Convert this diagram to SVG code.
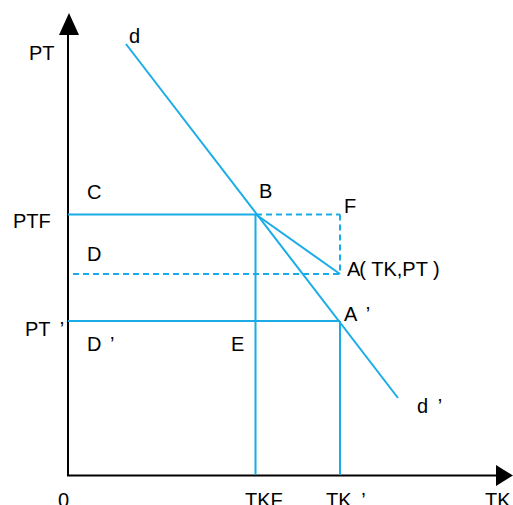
<svg xmlns="http://www.w3.org/2000/svg" width="513" height="505" viewBox="0 0 513 505">
<style>
text{font-family:"Liberation Sans",Arial,sans-serif;font-size:20px;fill:#000}
.b{stroke:#1AACE6;stroke-width:2;fill:none}
.d{stroke:#1AACE6;stroke-width:2;fill:none;stroke-dasharray:6,4}
.ax{stroke:#000;stroke-width:2;fill:none}
</style>
<rect width="513" height="505" fill="#fff"/>
<g id="axes">
<line class="ax" x1="68" y1="476" x2="68" y2="30"/>
<polygon points="59,35 69,13 79,35" fill="#000"/>
<line class="ax" x1="67" y1="475.5" x2="500" y2="475.5"/>
<polygon points="496,465 513,475.5 496,486" fill="#000"/>
</g>
<g id="connectors">
<line class="b" x1="126" y1="44" x2="398" y2="398"/>
<line class="b" x1="68" y1="214.5" x2="256" y2="214.5"/>
<line class="d" x1="256" y1="214.5" x2="340" y2="214.5"/>
<line class="d" x1="340" y1="214.5" x2="340" y2="274"/>
<line class="d" x1="73" y1="274" x2="340" y2="274"/>
<line class="b" x1="256" y1="214.5" x2="340" y2="274"/>
<line class="b" x1="68" y1="321" x2="340" y2="321"/>
<line class="b" x1="255.5" y1="214.5" x2="255.5" y2="475"/>
<line class="b" x1="340" y1="321" x2="340" y2="475"/>
</g>
<g id="labels">
<text x="129" y="43">d</text>
<text x="29" y="60">PT</text>
<text x="87" y="199">C</text>
<text x="13" y="228">PTF</text>
<text x="259" y="198">B</text>
<text x="344" y="213">F</text>
<text x="347" y="276">A<tspan dx="-1">( TK,PT )</tspan></text>
<text x="344" y="321">A <tspan dx="4">’</tspan></text>
<text x="87" y="261">D</text>
<text x="25" y="336">PT <tspan dx="4">’</tspan></text>
<text x="87" y="351">D <tspan dx="3">’</tspan></text>
<text x="231" y="351">E</text>
<text x="417" y="413">d <tspan dx="4">’</tspan></text>
<text x="58" y="507">0</text>
<text x="245" y="507">TKF</text>
<text x="326" y="507">TK <tspan dx="4">’</tspan></text>
<text x="485" y="507">TK</text>
</g>
</svg>
